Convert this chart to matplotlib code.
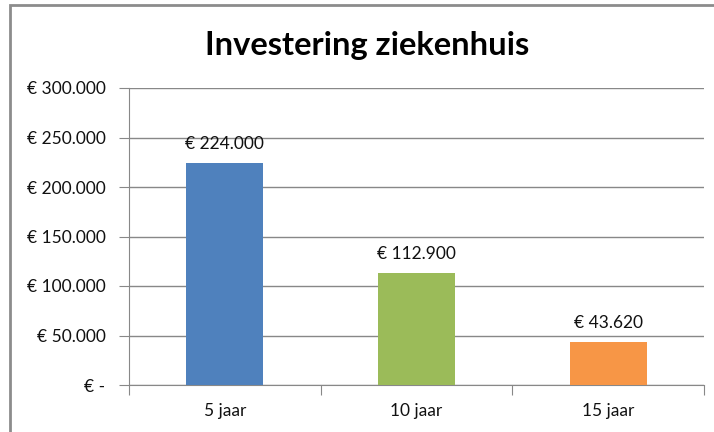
import matplotlib
matplotlib.use("Agg")
import matplotlib.pyplot as plt
from matplotlib.patches import Rectangle

# chart data
categories = ["5 jaar", "10 jaar", "15 jaar"]
values = [224000, 112900, 43620]
bar_colors = ["#4F81BD", "#9BBB59", "#F79646"]
y_ticks = [0, 50000, 100000, 150000, 200000, 250000, 300000]

GRID = "#888888"
TXT = "#111111"
plt.rcParams["font.family"] = ["Lato", "DejaVu Sans"]


def euro(v):
    # dutch style: € 224.000, zero shown as "€ -"
    if v == 0:
        return "€ -"
    return "€ " + f"{v:,.0f}".replace(",", ".")


fig = plt.figure(figsize=(7.14, 4.32), dpi=100)

# outer chart border (cut off at right/bottom like the screenshot)
fig.patches.append(Rectangle((10 / 714, -0.1), 1.2, 1 - 5 / 432 + 0.1,
                             transform=fig.transFigure, fill=False,
                             edgecolor="#8c8c8c", linewidth=2))

ax = fig.add_axes([129 / 714, 1 - 385 / 432, (704 - 129) / 714, (385 - 88) / 432])

x = range(len(categories))
ax.bar(x, values, width=0.4, color=bar_colors, zorder=3)

for i, v in enumerate(values):
    ax.annotate(euro(v), (i, v), xytext=(0, 8), textcoords="offset points",
                ha="center", va="bottom", fontsize=12.5, color=TXT)

ax.set_xlim(-0.5, len(categories) - 0.5)
ax.set_ylim(0, 300000)
ax.set_yticks(y_ticks)
ax.set_yticklabels([euro(v) for v in y_ticks], fontsize=12.5, color=TXT)
ax.yaxis.grid(True, color=GRID, linewidth=1)
ax.tick_params(axis="y", length=7, color=GRID, pad=10)

# category labels centered, tick marks at the category edges
ax.set_xticks([i - 0.5 for i in range(len(categories) + 1)])
ax.set_xticklabels([])
ax.set_xticks(list(x), minor=True)
ax.set_xticklabels(categories, minor=True, fontsize=12.5, color=TXT)
ax.tick_params(axis="x", which="major", length=7, color=GRID)
ax.tick_params(axis="x", which="minor", length=0, pad=13)

for side in ["top", "right"]:
    ax.spines[side].set_visible(False)
for side in ["left", "bottom"]:
    ax.spines[side].set_color(GRID)

fig.text(367 / 714, 1 - 46 / 432, "Investering ziekenhuis", ha="center", va="center",
         fontsize=23.5, fontweight="bold", color="black")

fig.savefig("out.png", dpi=100)
